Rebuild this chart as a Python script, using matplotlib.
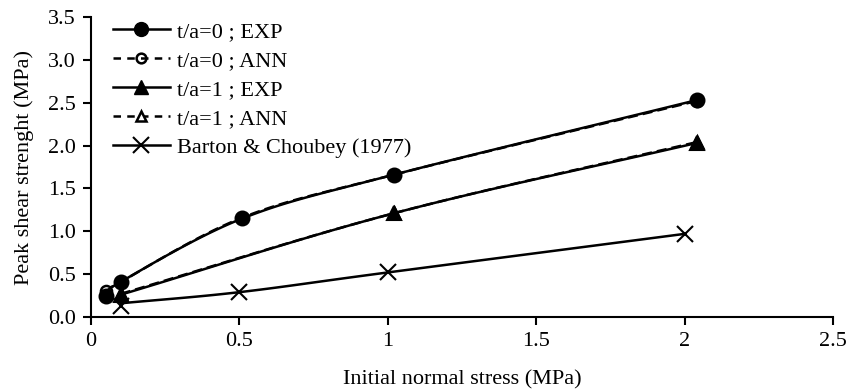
import matplotlib
matplotlib.use("Agg")
import matplotlib.pyplot as plt
from matplotlib.lines import Line2D
import numpy as np

plt.rcParams['font.family'] = ['Liberation Serif', 'DejaVu Serif']

# data
x_t0_exp = [0.05, 0.10, 0.51, 1.02, 2.04]
y_t0_exp = [0.25, 0.41, 1.15, 1.66, 2.53]
x_t0_ann = [0.05, 0.10, 0.51, 1.02, 2.04]
y_t0_ann = [0.30, 0.41, 1.16, 1.66, 2.52]
x_t1_exp = [0.10, 1.02, 2.04]
y_t1_exp = [0.26, 1.21, 2.03]
x_t1_ann = [0.10, 1.02, 2.04]
y_t1_ann = [0.27, 1.21, 2.04]
x_barton = [0.10, 0.50, 1.00, 2.00]
y_barton = [0.16, 0.29, 0.52, 0.97]

labels = ["t/a=0 ; EXP", "t/a=0 ; ANN", "t/a=1 ; EXP", "t/a=1 ; ANN",
          "Barton & Choubey (1977)"]
xticks = [0, 0.5, 1, 1.5, 2, 2.5]
xticklabels = ["0", "0.5", "1", "1.5", "2", "2.5"]
yticks = [0.0, 0.5, 1.0, 1.5, 2.0, 2.5, 3.0, 3.5]


def smooth(xs, ys, n=30):
    # catmull-rom through the points, like excel's smoothed line
    xs = np.asarray(xs, float)
    ys = np.asarray(ys, float)
    px = np.concatenate([[2 * xs[0] - xs[1]], xs, [2 * xs[-1] - xs[-2]]])
    py = np.concatenate([[2 * ys[0] - ys[1]], ys, [2 * ys[-1] - ys[-2]]])
    ox, oy = [], []
    t = np.linspace(0, 1, n)
    for i in range(1, len(px) - 2):
        p0, p1, p2, p3 = [np.array([px[j], py[j]]) for j in range(i - 1, i + 3)]
        seg = 0.5 * ((2 * p1)[:, None] + (-p0 + p2)[:, None] * t
                     + (2 * p0 - 5 * p1 + 4 * p2 - p3)[:, None] * t ** 2
                     + (-p0 + 3 * p1 - 3 * p2 + p3)[:, None] * t ** 3)
        ox.extend(seg[0])
        oy.extend(seg[1])
    return ox, oy


fig = plt.figure(figsize=(8.49, 3.92), dpi=100)
ax = fig.add_axes([0.1072, 0.1913, 0.8740, 0.7653])

lw = 1.8
# ANN series first (dashed), EXP drawn over them
for xs, ys, mk, lab in [(x_t0_ann, y_t0_ann, 'o', labels[1]),
                        (x_t1_ann, y_t1_ann, '^', labels[3])]:
    sx, sy = smooth(xs, ys)
    ax.plot(sx, sy, color='black', lw=lw, ls=(0, (4, 2)))
    ax.plot(xs, ys, ls='none', marker=mk, ms=8, mfc='white', mec='black', mew=1.8)

for xs, ys, mk, ms in [(x_t0_exp, y_t0_exp, 'o', 10),
                       (x_t1_exp, y_t1_exp, '^', 10),
                       (x_barton, y_barton, 'x', 11)]:
    sx, sy = smooth(xs, ys)
    ax.plot(sx, sy, color='black', lw=lw)
    if mk == 'x':
        ax.plot(xs[:1], [ys[0] - 0.03], ls='none', marker=mk, ms=ms, color='black', mew=1.5)
        ax.plot(xs[1:], ys[1:], ls='none', marker=mk, ms=ms, color='black', mew=1.5)
    else:
        ax.plot(xs, ys, ls='none', marker=mk, ms=ms, color='black', mew=1.5)

# legend proxies
handles = [
    Line2D([], [], color='black', lw=lw, marker='o', ms=10),
    Line2D([], [], color='black', lw=lw, ls=(0, (3, 2.5)), marker='o', ms=7, mfc='none', mew=1.8),
    Line2D([], [], color='black', lw=lw, marker='^', ms=10),
    Line2D([], [], color='black', lw=lw, ls=(0, (3, 2.5)), marker='^', ms=7, mfc='white', mew=1.8),
    Line2D([], [], color='black', lw=lw, marker='x', ms=11, mew=1.5),
]
ax.legend(handles, labels, loc='upper left', bbox_to_anchor=(0.017, 1.015),
          frameon=False, fontsize=16, handlelength=2.6, handletextpad=0.3,
          labelspacing=0.38, borderaxespad=0.0)

ax.set_xlim(0, 2.5)
ax.set_ylim(0, 3.5)
ax.set_xticks(xticks)
ax.set_xticklabels(xticklabels)
ax.set_yticks(yticks)
ax.set_yticklabels([f"{v:.1f}" for v in yticks])
ax.tick_params(direction='out', length=6, width=1.5, labelsize=16, pad=5)
ax.spines['top'].set_visible(False)
ax.spines['right'].set_visible(False)
ax.spines['left'].set_linewidth(1.5)
ax.spines['bottom'].set_linewidth(1.5)

ax.set_xlabel("Initial normal stress (MPa)", fontsize=16, labelpad=14)
ax.set_ylabel("Peak shear strenght (MPa)", fontsize=16, labelpad=10)

fig.savefig("out.png", dpi=100)
